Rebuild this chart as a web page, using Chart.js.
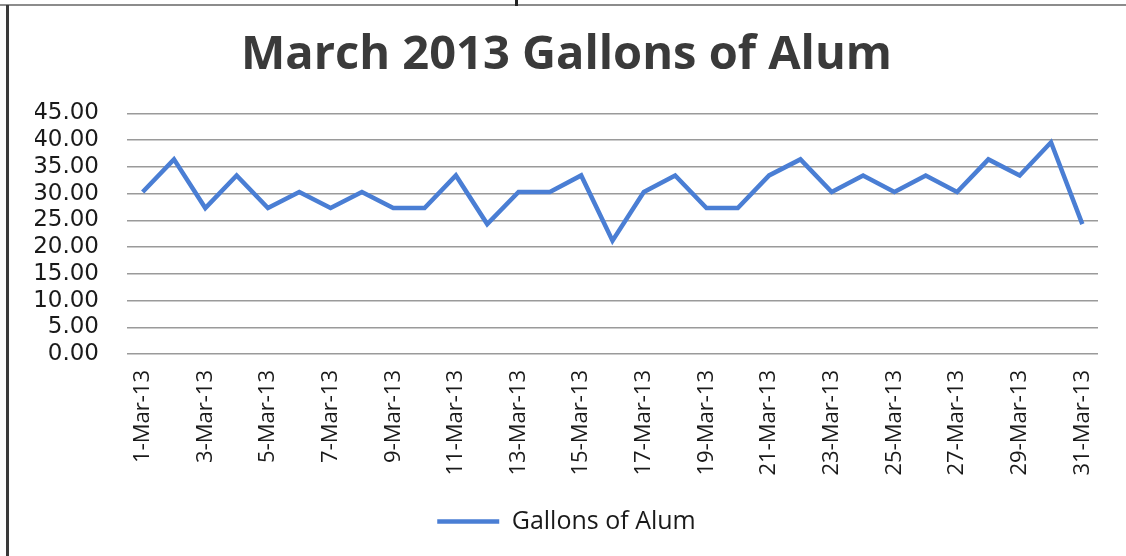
<!DOCTYPE html>
<html>
<head>
<meta charset="utf-8">
<script src="https://cdn.jsdelivr.net/npm/chart.js@4/dist/chart.umd.min.js"></script>
<style>
    html, body { margin: 0; padding: 0; background: #fff; }
    #wrap { position: relative; width: 1126px; height: 556px; overflow: hidden; }
    #frameTop { position: absolute; left: 0; top: 4px; width: 1126px; height: 2px; background: #8c8c8c; }
    #frameLeft { position: absolute; left: 6px; top: 5px; width: 3px; height: 551px; background: #3a3a3a; }
    #notch { position: absolute; left: 515px; top: 0; width: 3px; height: 6px; background: #222; }
    canvas { position: absolute; left: 0; top: 0; }
</style>
</head>
<body>
<div id="wrap">
    <canvas id="alumChart" width="1126" height="556"></canvas>
    <div id="frameTop"></div>
    <div id="frameLeft"></div>
    <div id="notch"></div>
</div>
<script>
// ================= DATA =================

const days = [
    '1-Mar-13', '2-Mar-13', '3-Mar-13', '4-Mar-13', '5-Mar-13', '6-Mar-13', '7-Mar-13', '8-Mar-13',
    '9-Mar-13', '10-Mar-13', '11-Mar-13', '12-Mar-13', '13-Mar-13', '14-Mar-13', '15-Mar-13', '16-Mar-13',
    '17-Mar-13', '18-Mar-13', '19-Mar-13', '20-Mar-13', '21-Mar-13', '22-Mar-13', '23-Mar-13', '24-Mar-13',
    '25-Mar-13', '26-Mar-13', '27-Mar-13', '28-Mar-13', '29-Mar-13', '30-Mar-13', '31-Mar-13'
];

const gallonsOfAlum = [
    30.3, 36.4, 27.3, 33.4, 27.3, 30.3, 27.3, 30.3,
    27.3, 27.3, 33.4, 24.3, 30.3, 30.3, 33.4, 21.2,
    30.3, 33.4, 27.3, 27.3, 33.4, 36.4, 30.3, 33.4,
    30.3, 33.4, 30.3, 36.4, 33.4, 39.6, 24.3
];

const yMin = 0;
const yMax = 45;
const yStep = 5;

// ================= CHART =================

const ctx = document.getElementById('alumChart');

new Chart(ctx, {
    type: 'line',
    data: {
        labels: days,
        datasets: [{
            label: 'Gallons of Alum',
            data: gallonsOfAlum,
            borderColor: '#4a7ed4',
            backgroundColor: '#4a7ed4',
            borderWidth: 4.5,
            pointRadius: 0,
            tension: 0,
            fill: false
        }]
    },
    options: {
        responsive: false,
        animation: false,
        // left padding keeps title/legend centred where the original has them
        layout: { padding: { left: 35, right: 28, top: 0, bottom: 12 } },
        plugins: {
            title: {
                display: true,
                text: 'March 2013 Gallons of Alum',
                color: '#3a3a3a',
                font: { family: '"Open Sans", sans-serif', size: 47, weight: 'bold' },
                padding: { top: 27, bottom: 30 }
            },
            legend: {
                position: 'bottom',
                labels: {
                    usePointStyle: true,
                    pointStyle: 'line',
                    pointStyleWidth: 62,
                    boxWidth: 62,
                    color: '#1a1a1a',
                    font: { family: '"Open Sans", sans-serif', size: 25 },
                    padding: 10
                }
            },
            tooltip: { enabled: false }
        },
        scales: {
            x: {
                offset: true,
                grid: { display: false, drawTicks: false },
                border: { display: false },
                ticks: {
                    autoSkip: false,
                    maxRotation: 90,
                    minRotation: 90,
                    padding: 16,
                    color: '#1a1a1a',
                    font: { family: '"Open Sans", sans-serif', size: 22 },
                    callback: (value, i) => (i % 2 === 0 ? days[i] : '')
                },
                afterFit: scale => { scale.height = 145; }
            },
            y: {
                min: yMin,
                max: yMax,
                grid: { color: '#9a9a9a', lineWidth: 1.5, drawTicks: false },
                border: { display: false },
                ticks: {
                    autoSkip: false,
                    stepSize: yStep,
                    padding: 28,
                    color: '#1a1a1a',
                    font: { family: '"DejaVu Sans", sans-serif', size: 23 },
                    callback: v => v.toFixed(2)
                },
                afterFit: scale => { scale.width = 92; }
            }
        }
    }
});
</script>
</body>
</html>
